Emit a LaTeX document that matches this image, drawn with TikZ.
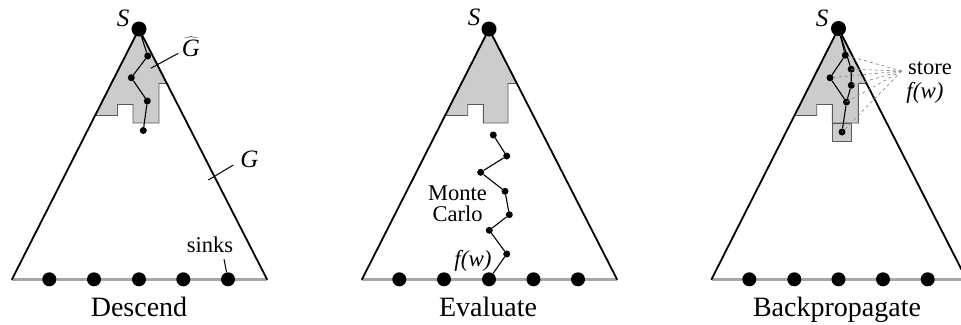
\documentclass[tikz,border=0pt]{standalone}
\usepackage{fontspec}
\setmainfont{Liberation Serif}
\begin{document}
\begin{tikzpicture}[x=1pt,y=-1pt,
  bigdot/.style={circle,fill=black,inner sep=0pt,minimum size=15pt},
  sinkdot/.style={circle,fill=black,inner sep=0pt,minimum size=14pt},
  walkdot/.style={circle,fill=black,inner sep=0pt,minimum size=7pt},
  side/.style={line width=1.8pt,line cap=round},
  baseline/.style={line width=2.4pt,draw=black!35},
  walk/.style={line width=1.1pt},
  region/.style={fill=black!20,draw=black!65,line width=0.9pt},
  leader/.style={line width=1pt},
  store/.style={dashed,draw=black!45,line width=0.7pt},
  title/.style={anchor=base,font=\fontsize{28}{30}\selectfont},
  lbl/.style={anchor=base,font=\fontsize{22.5}{24}\selectfont,inner sep=0pt},
  mlbl/.style={anchor=base,font=\fontsize{25}{27}\selectfont\itshape,inner sep=0pt}]
\useasboundingbox (0,0) rectangle (961,324);
\clip (0,0) rectangle (961,324);

% ---------- Panel 1: Descend ----------
\coordinate (A1) at (139,29);
\coordinate (L1) at (12,279.3);
\coordinate (R1) at (267,279.3);
\draw[region] (A1) -- (166.9,83.5) -- (159,83.5) -- (159,123) -- (133,123) -- (133,104.5)
  -- (117.5,104.5) -- (117.5,115.5) -- (95.1,115.5) -- cycle;
\draw[baseline] (L1) -- (R1);
\draw[side] (L1) -- (A1) -- (R1);
\node[bigdot] (s1) at (A1) {};
\node[walkdot] (p1a) at (147.7,56) {};
\node[walkdot] (p1b) at (131.3,77.7) {};
\node[walkdot] (p1c) at (147.3,101) {};
\node[walkdot] (p1d) at (143.3,130.5) {};
\draw[walk] (s1) -- (p1a) -- (p1b) -- (p1c) -- (p1d);
\foreach \i/\x in {1/49.3,2/94,3/139,4/183.3,5/228}
  \node[sinkdot] (k1\i) at (\x,279.3) {};
\node[mlbl] (S1) at (123,26) {S};
\node[anchor=base,inner sep=0pt,font=\fontsize{25}{27}\selectfont] (Gh) at (191,56.5) {$\widehat{\mbox{\itshape G}}$};
\coordinate (gh0) at (150.7,68.3);
\coordinate (gh1) at (178.3,53.3);
\draw[leader] (gh0) -- (gh1);
\node[mlbl] (G) at (249.5,167.3) {G};
\coordinate (g0) at (208.3,180);
\coordinate (g1) at (233.3,165);
\draw[leader] (g0) -- (g1);
\node[lbl] (sinks) at (210,252.7) {sinks};
\coordinate (sk0) at (224,259.3);
\draw[leader] (sk0) -- (k15);
\node[title] (t1) at (139,316) {Descend};

% ---------- Panel 2: Evaluate ----------
\coordinate (A2) at (489,29);
\coordinate (L2) at (362,279.3);
\coordinate (R2) at (617,279.3);
\draw[region] (A2) -- (516.9,83.5) -- (508,83.5) -- (508,123) -- (483.3,123) -- (483.3,104.5)
  -- (467.7,104.5) -- (467.7,115.5) -- (445.1,115.5) -- cycle;
\draw[baseline] (L2) -- (R2);
\draw[side] (L2) -- (A2) -- (R2);
\node[bigdot] (s2) at (A2) {};
\foreach \i/\x in {1/399.3,2/444,3/489,4/533.5,5/578}
  \node[sinkdot] (k2\i) at (\x,279.3) {};
\node[walkdot] (m1) at (493.3,135) {};
\node[walkdot] (m2) at (506.7,156) {};
\node[walkdot] (m3) at (480.7,172.3) {};
\node[walkdot] (m4) at (505,191.3) {};
\node[walkdot] (m5) at (509.3,214.7) {};
\node[walkdot] (m6) at (489.3,230.3) {};
\node[walkdot] (m7) at (506.7,254) {};
\draw[walk] (m1) -- (m2) -- (m3) -- (m4) -- (m5) -- (m6) -- (m7) -- (k23);
\node[mlbl] (S2) at (474,25.7) {S};
\node[lbl] (mc1) at (457.5,200) {Monte};
\node[lbl] (mc2) at (457.5,221) {Carlo};
\node[anchor=base,font=\fontsize{23}{25}\selectfont\itshape,inner sep=0pt] (fw2) at (473,266) {f(w)};
\node[title] (t2) at (488,316) {Evaluate};

% ---------- Panel 3: Backpropagate ----------
\coordinate (A3) at (838.5,28.5);
\coordinate (L3) at (711.5,279.3);
\coordinate (R3) at (966.5,279.3);
\draw[region] (A3) -- (866.4,83.5) -- (858.3,83.5) -- (858.3,123) -- (832.3,123) -- (832.3,104.5)
  -- (816.7,104.5) -- (816.7,115.5) -- (794.6,115.5) -- cycle;
\draw[region] (832.3,123) rectangle (851.7,141.7);
\draw[baseline] (L3) -- (R3);
\draw[side] (L3) -- (A3) -- (R3);
\node[bigdot] (s3) at (A3) {};
\foreach \i/\x in {1/749.3,2/794.3,3/838.5,4/883,5/927.7}
  \node[sinkdot] (k3\i) at (\x,279.3) {};
\node[walkdot] (qa) at (845.3,55.2) {};
\node[walkdot] (qb) at (851.2,69.2) {};
\node[walkdot] (qc) at (830,77.8) {};
\node[walkdot] (qd) at (851.3,85.3) {};
\node[walkdot] (qe) at (846.5,102) {};
\node[walkdot] (qf) at (842,132) {};
\coordinate (st) at (901.7,71);
\foreach \q in {qa,qb,qc,qd,qe,qf}
  \draw[store] (st) -- (\q.center);
\draw[walk] (s3) -- (qa) -- (qc) -- (qe) -- (qf);
\draw[walk] (s3) -- (qb) -- (qd) -- (qe);
\node[mlbl] (S3) at (822,26) {S};
\node[lbl] (store) at (930,74.3) {store};
\node[anchor=base,font=\fontsize{23}{25}\selectfont\itshape,inner sep=0pt] (fw3) at (925,98) {f(w)};
\node[title] (t3) at (837,316) {Backpropagate};
\end{tikzpicture}
\end{document}
